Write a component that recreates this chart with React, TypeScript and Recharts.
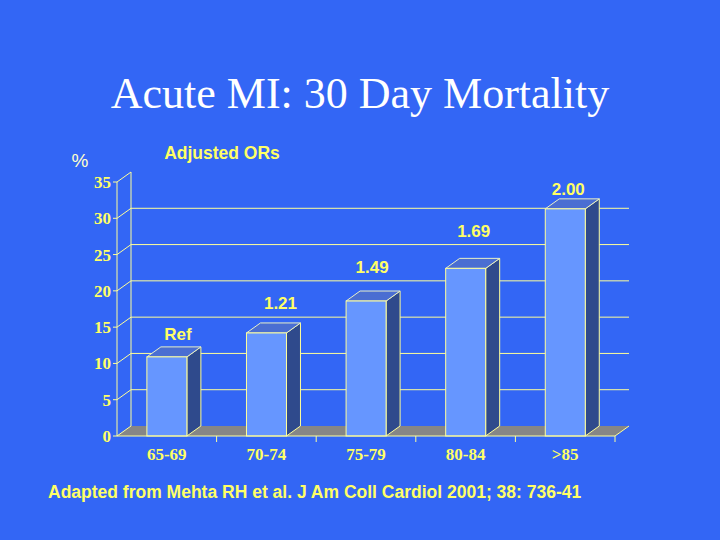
import { BarChart, Bar, XAxis, YAxis, CartesianGrid, LabelList } from 'recharts'

const ageGroups = ['65-69', '70-74', '75-79', '80-84', '>85']
const mortality = [10.9, 14.2, 18.6, 23.1, 31.3]
const adjustedORs = ['Ref', '1.21', '1.49', '1.69', '2.00']
const yTicks = [0, 5, 10, 15, 20, 25, 30, 35]

const data = ageGroups.map((age, i) => ({ age, mortality: mortality[i], or: adjustedORs[i] }))

// layout of the 3d box (plot area = front plane)
const W = 720
const H = 540
const PLOT_TOP = 182
const PLOT_BOTTOM = 436
const DX = 14
const DY = 10
const BAND = 498 / ageGroups.length
const LINE = '#ffff99'
const YELLOW = '#ffff66'
const BG = '#3366f5'
const SERIF = '"Liberation Serif", "Times New Roman", serif'
const SANS = '"Liberation Sans", Arial, sans-serif'

// hand-placed text boxes in the original slide
const labelDx = [11, 14, 6, 8, 3]
const labelLift = [17, 24, 28, 31, 14]

function gridLine(p: any) {
  const { x1, x2, y1, index } = p
  const bx = x1 + DX
  const by = y1 - DY
  if (Math.abs(y1 - PLOT_BOTTOM) < 1) {
    return (
      <g key={`h-${index}`}>
        <polygon points={`${x1},${y1} ${x2},${y1} ${x2 + DX},${by} ${bx},${by}`} fill="#868686" />
        <line x1={x1} y1={y1} x2={bx} y2={by} stroke={LINE} />
        <line x1={x2} y1={y1} x2={x2 + DX} y2={by} stroke={LINE} />
      </g>
    )
  }
  const isTop = Math.abs(y1 - PLOT_TOP) < 1
  return (
    <g key={`h-${index}`}>
      <line x1={x1} y1={y1} x2={bx} y2={by} stroke={LINE} />
      {isTop ? (
        <line x1={bx} y1={by} x2={bx} y2={PLOT_BOTTOM - DY} stroke={LINE} />
      ) : (
        <line x1={bx} y1={by} x2={x2 + DX} y2={by} stroke={LINE} />
      )}
    </g>
  )
}

function Bar3D(p: any) {
  const { x, y, width: w, height: h } = p
  return (
    <g>
      <polygon
        points={`${x + w},${y} ${x + w + DX},${y - DY} ${x + w + DX},${y + h - DY} ${x + w},${y + h}`}
        fill="#2f4a8c"
        stroke={LINE}
      />
      <polygon
        points={`${x},${y} ${x + DX},${y - DY} ${x + w + DX},${y - DY} ${x + w},${y}`}
        fill="#4a6ed2"
        stroke="#e8f0c8"
      />
      <rect x={x} y={y} width={w} height={h} fill="#6696ff" stroke={LINE} />
    </g>
  )
}

function YTick(p: any) {
  const { x, y, payload } = p
  return (
    <text x={x} y={y} dy="0.35em" textAnchor="end" fill={YELLOW} fontFamily={SERIF} fontWeight="bold" fontSize={17}>
      {payload.value}
    </text>
  )
}

function XTick(p: any) {
  const { x, y, payload } = p
  return (
    <g>
      <line x1={x + BAND / 2} y1={y} x2={x + BAND / 2} y2={y + 6} stroke={LINE} />
      <text x={x} y={y + 24} textAnchor="middle" fill={YELLOW} fontFamily={SERIF} fontWeight="bold" fontSize={17}>
        {payload.value}
      </text>
    </g>
  )
}

function renderOR(p: any) {
  const { x, y, width, value, index } = p
  return (
    <text
      x={x + width / 2 + labelDx[index]}
      y={y - labelLift[index]}
      textAnchor="middle"
      fill={YELLOW}
      fontFamily={SANS}
      fontWeight="bold"
      fontSize={17}
    >
      {value}
    </text>
  )
}

export default function App() {
  return (
    <div style={{ position: 'fixed', left: 0, top: 0, width: W, height: H, background: BG }}>
      <BarChart
        width={W}
        height={H}
        data={data}
        margin={{ top: PLOT_TOP, right: 105, bottom: 74, left: 77 }}
        barCategoryGap="30%"
      >
        <CartesianGrid vertical={false} horizontal={gridLine} />
        <XAxis
          dataKey="age"
          height={30}
          axisLine={{ stroke: LINE }}
          tickLine={false}
          tickSize={0}
          tickMargin={0}
          tick={<XTick />}
          interval={0}
        />
        <YAxis
          width={40}
          domain={[0, 35]}
          ticks={yTicks}
          axisLine={{ stroke: LINE }}
          tickLine={{ stroke: LINE }}
          tickSize={4}
          tickMargin={2}
          tick={<YTick />}
        />
        <Bar dataKey="mortality" shape={<Bar3D />} isAnimationActive={false}>
          <LabelList dataKey="or" content={renderOR} />
        </Bar>
      </BarChart>
      <svg width={W} height={H} style={{ position: 'absolute', left: 0, top: 0, pointerEvents: 'none' }}>
        <text x={360} y={108} textAnchor="middle" fill="#ffffff" fontFamily={SERIF} fontSize={44}>
          Acute MI: 30 Day Mortality
        </text>
        <text x={80} y={167} textAnchor="middle" fill="#ffffcc" fontFamily={SANS} fontSize={19}>
          %
        </text>
        <text x={222} y={159} textAnchor="middle" fill={YELLOW} fontFamily={SANS} fontWeight="bold" fontSize={17.5}>
          Adjusted ORs
        </text>
        <text x={48} y={498} fill={YELLOW} fontFamily={SANS} fontWeight="bold" fontSize={17.5}>
          Adapted from Mehta RH et al. J Am Coll Cardiol 2001; 38: 736-41
        </text>
      </svg>
    </div>
  )
}
